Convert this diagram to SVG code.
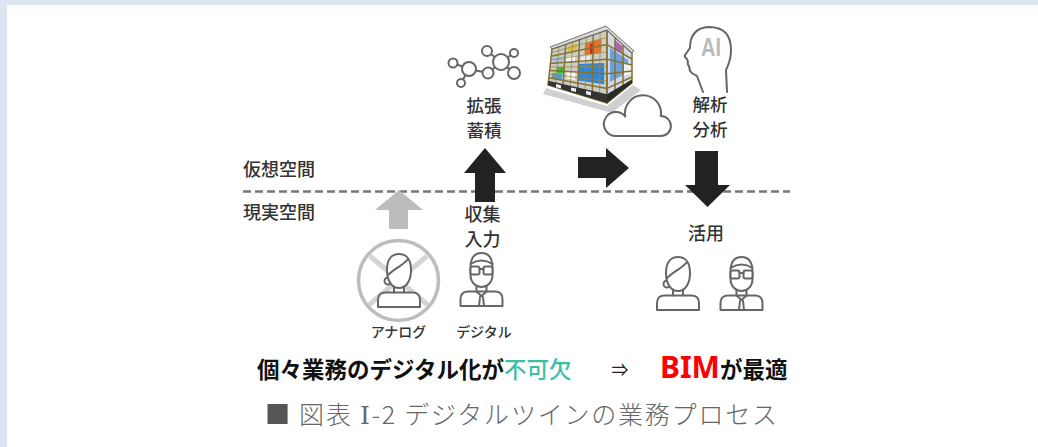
<svg xmlns="http://www.w3.org/2000/svg" xmlns:xlink="http://www.w3.org/1999/xlink" width="1038" height="447" viewBox="0 0 1038 447">
  <style>
    .lbl { font-family: "Noto Sans CJK JP", "Noto Sans", sans-serif; font-size: 18px; font-weight: 500; fill: #333; }
    .pair { font-family: "Noto Sans CJK JP", "Noto Sans", sans-serif; font-size: 17.5px; font-weight: 500; fill: #333; }
    .small { font-family: "Noto Sans CJK JP", "Noto Sans", sans-serif; font-size: 14px; font-weight: 500; fill: #333; }
    .icon { fill: #fff; stroke: #666; stroke-width: 2; stroke-linejoin: round; stroke-linecap: round; }
    .line { fill: none; stroke: #666; stroke-width: 2; stroke-linecap: round; stroke-linejoin: round; }
    .frame { stroke: #86732f; stroke-width: 1.5; fill: none; }
    .thin { stroke: #a08c48; stroke-width: 0.8; fill: none; }
    .main { font-family: "Noto Sans CJK JP", "Noto Sans", sans-serif; font-size: 22.5px; font-weight: 700; fill: #111; }
    .caption { font-family: "Noto Sans CJK JP", "Noto Sans", sans-serif; font-size: 25px; font-weight: 300; fill: #666; }
  </style>
  <defs>
    <!-- person icons, origin = top centre of head -->
    <g id="male">
      <path class="icon" d="M-21,53 L-21,46 Q-21,39 -14,38.5 L14,38.5 Q21,39 21,46 L21,53 Z"/>
      <path class="line" d="M-5,32 L-5,38.5 M5,32 L5,38.5"/>
      <path class="line" d="M-5,38.5 L0,43 L5,38.5 M-1.5,44 L-2.5,53 M1.5,44 L2.5,53"/>
      <path class="icon" d="M-11,15 C-11,3 -6,0 0,0 C6,0 11,3 11,15 L11,22 C11,30 5,34 0,34 C-5,34 -11,30 -11,22 Z"/>
      <path class="line" d="M-11,11 Q0,4 11,11"/>
      <rect class="icon" x="-11" y="13.5" width="9" height="8" rx="2"/>
      <rect class="icon" x="2" y="13.5" width="9" height="8" rx="2"/>
      <path class="line" d="M-2,16 L2,16"/>
    </g>
    <g id="female">
      <path class="icon" d="M-21,53 L-21,46 Q-21,39 -14,38.5 L14,38.5 Q21,39 21,46 L21,53 Z"/>
      <path class="line" d="M-5,32 L-5,38.5 M5,32 L5,38.5"/>
      <circle class="icon" cx="-11" cy="27" r="3.5"/>
      <path class="icon" d="M-12,16 C-12,5 -7,0 0,0 C7,0 12,5 12,16 C12,27 7,34 0,34 C-7,34 -12,27 -12,16 Z"/>
      <path class="line" d="M9,5 C5,11 -3,13 -11,21"/>
    </g>
  </defs>

  <!-- page background with pale blue frame -->
  <rect x="0" y="0" width="1038" height="447" fill="#dce6f3"/>
  <rect x="7" y="5" width="1031" height="442" fill="#fff"/>

  <!-- boundary between virtual and real space -->
  <g id="boundary">
    <line x1="243" y1="191.5" x2="790" y2="191.5" stroke="#777" stroke-width="2.5" stroke-dasharray="8 4"/>
    <text class="lbl" x="243" y="176">仮想空間</text>
    <text class="lbl" x="243" y="219">現実空間</text>
  </g>

  <!-- flow arrows -->
  <g id="connectors">
    <polygon points="399,190 423,210 408,210 408,229 389,229 389,210 375,210" fill="#bcbcbc"/>
    <polygon points="485,148 506,173 495,173 495,202 475,202 475,173 464,173" fill="#222"/>
    <polygon points="578,157 606,157 606,148 629,168 606,188 606,178 578,178" fill="#222"/>
    <polygon points="695,151 718,151 718,185 730,185 707.5,207 685,185 695,185" fill="#222"/>
  </g>

  <!-- data network: expand / accumulate -->
  <g id="node-network">
    <path class="line" d="M453,63 L469,69 L461,83 M469,69 L488,73 L501,62 L487,51 M501,62 L514,53 M501,62 L514,73"/>
    <circle class="icon" cx="453" cy="63" r="4.5"/>
    <circle class="icon" cx="469" cy="69" r="7"/>
    <circle class="icon" cx="461" cy="83" r="4"/>
    <circle class="icon" cx="488" cy="73" r="5.5"/>
    <circle class="icon" cx="487" cy="51" r="5"/>
    <circle class="icon" cx="501" cy="62" r="8"/>
    <circle class="icon" cx="514" cy="53" r="4"/>
    <circle class="icon" cx="514" cy="73" r="6"/>
    <text class="pair" x="484" y="112" text-anchor="middle">拡張</text>
    <text class="pair" x="484" y="137" text-anchor="middle">蓄積</text>
  </g>

  <!-- BIM building model -->
  <g id="node-building">
    <polygon points="546,88 607,106 633,85 641,90 612,113 543,94" fill="#8a8a8a" opacity="0.4"/>
    <!-- left facade -->
    <polygon points="552,49 607,30 607,103 548,85" fill="#c9ccc8"/>
    <polygon points="578.6,64 604.2,63 604.1,84.3 578,80.4" fill="#2f86d6"/>
    <polygon points="556.8,66.9 564.2,66.9 563.8,73.7 556.3,73" fill="#33c233"/>
    <polygon points="584.9,43.4 601.5,38.8 601.4,52.7 584.5,55.1" fill="#e8742a"/>
    <polygon points="590,44 594,43 594,53 590,54" fill="#e02020"/>
    <polygon points="566,57 575,55.5 575,61 566,62" fill="#f4f4f4"/>
    <polygon points="553.8,57.5 563.2,55.9 562.9,62.5 553.2,63.2" fill="#9cc4ec"/>
    <polygon points="566.8,71.6 575.4,72 575.1,79.9 566.4,78.6" fill="#fafafa"/>
    <polygon points="568.4,45.7 576.7,43.1 576.4,49.9 568,51.8" fill="#d9c040"/>
    <polygon points="552.3,72.7 562.1,73.5 561.6,80.1 551.7,78.3" fill="#4a9be0"/>
    <polygon points="581,57 590,55.8 590,61 581,62" fill="#f0f0f0"/>
    <!-- right facade -->
    <polygon points="607,30 632,53 632,83 607,103" fill="#d2d9e4"/>
    <polygon points="610,48 628,60 628,72 610,82" fill="#6e9fe0"/>
    <polygon points="615,40 622,46 622,52 615,50" fill="#b060c0"/>
    <polygon points="624,62 631,66 631,74 624,76" fill="#f2f2f2"/>
    <!-- structural frame -->
    <g class="thin">
      <line x1="551.6" y1="52.6" x2="607" y2="37.3"/>
      <line x1="550.8" y1="59.8" x2="607" y2="51.9"/>
      <line x1="550" y1="67" x2="607" y2="66.5"/>
      <line x1="549.2" y1="74.2" x2="607" y2="81.1"/>
      <line x1="558.9" y1="46.6" x2="555.4" y2="87.2"/>
      <line x1="572.6" y1="41.9" x2="570.1" y2="91.8"/>
      <line x1="586.4" y1="37.1" x2="584.9" y2="96.2"/>
      <line x1="600.1" y1="32.4" x2="599.6" y2="100.8"/>
    </g>
    <g class="frame">
      <polygon points="552,49 607,30 607,103 548,85"/>
      <polygon points="607,30 632,53 632,83 607,103"/>
      <line x1="551.2" y1="56.2" x2="607" y2="44.6"/>
      <line x1="550.4" y1="63.4" x2="607" y2="59.2"/>
      <line x1="549.6" y1="70.6" x2="607" y2="73.8"/>
      <line x1="548.8" y1="77.8" x2="607" y2="88.4"/>
      <line x1="565.75" y1="44.25" x2="562.75" y2="89.5"/>
      <line x1="579.5" y1="39.5" x2="577.5" y2="94"/>
      <line x1="593.25" y1="34.75" x2="592.25" y2="98.5"/>
      <line x1="607" y1="44.6" x2="632" y2="59"/>
      <line x1="607" y1="59.2" x2="632" y2="65"/>
      <line x1="607" y1="73.8" x2="632" y2="71"/>
      <line x1="607" y1="88.4" x2="632" y2="77"/>
      <line x1="615" y1="37.4" x2="615" y2="96.6"/>
      <line x1="623" y1="44.7" x2="623" y2="90.2"/>
    </g>
    <!-- ground floor -->
    <polygon points="548.5,80.7 607,94.2 607,103 548,85" fill="#333"/>
    <polygon points="607,94.2 632,79.4 632,83 607,103" fill="#2a2a2a"/>
    <polygon points="556,84 561,85.2 561,88.6 556,87.3" fill="#eee"/>
    <polygon points="571,87.4 576,88.6 576,92 571,90.8" fill="#eee"/>
    <polygon points="586,90.8 591,92 591,95.5 586,94.2" fill="#eee"/>
    <!-- roof edge -->
    <polygon points="550,47 606,26 634,51 632,53 607,30 552,49" fill="#d8d8d8" stroke="#555" stroke-width="0.8"/>
  </g>

  <!-- cloud storage -->
  <g id="node-cloud">
    <path class="icon" stroke-width="2.5" d="M616,136 A12,12 0 1 1 625.3,116.5 A18,18 0 1 1 660.8,116 A10,10 0 1 1 661,136 Z"/>
  </g>

  <!-- AI analysis -->
  <g id="node-ai">
    <path class="line" d="M703,92 L697,76 Q692,74 690,71 L689,66 Q687,64 688,62 L687,59 Q684,57 685,55 L690,48 Q690,28 709,27 Q731,27 731,50 Q731,60 726,70 L727,92"/>
    <text x="711" y="56" text-anchor="middle" font-family="Liberation Sans, Arial, sans-serif" font-size="25" font-weight="700" fill="#bbb" textLength="20" lengthAdjust="spacingAndGlyphs">AI</text>
    <text class="pair" x="710" y="111" text-anchor="middle">解析</text>
    <text class="pair" x="710" y="136" text-anchor="middle">分析</text>
  </g>

  <!-- analogue worker (crossed out) -->
  <g id="node-analog">
    <circle cx="398.5" cy="280.5" r="40" fill="#fff" stroke="#bdbdbd" stroke-width="3.5"/>
    <path d="M370,256 L428,305 M427,256 L369,305" stroke="#d4d4d4" stroke-width="5" fill="none"/>
    <use xlink:href="#female" href="#female" x="399" y="254"/>
    <text class="small" x="398.5" y="337" text-anchor="middle">アナログ</text>
  </g>

  <!-- digital worker -->
  <g id="node-digital">
    <use xlink:href="#male" href="#male" x="481.5" y="253"/>
    <text class="small" x="484" y="337" text-anchor="middle">デジタル</text>
    <text class="lbl" x="482.5" y="221" text-anchor="middle">収集</text>
    <text class="lbl" x="482.5" y="246" text-anchor="middle">入力</text>
  </g>

  <!-- users of the results -->
  <g id="node-use">
    <text class="lbl" x="706" y="240" text-anchor="middle">活用</text>
    <use xlink:href="#female" href="#female" x="678" y="257"/>
    <use xlink:href="#male" href="#male" x="741.5" y="257"/>
  </g>

  <!-- conclusion -->
  <g id="summary">
    <text class="main" x="257" y="378">個々業務のデジタル化が<tspan fill="#3dbfa6" font-weight="500">不可欠</tspan></text>
    <text x="620" y="376" text-anchor="middle" font-family="Noto Sans CJK JP, sans-serif" font-size="17" fill="#222">⇒</text>
    <text class="main" x="660" y="378"><tspan fill="#ff0000" font-size="30" font-family="Noto Sans, Liberation Sans, sans-serif">BIM</tspan>が最適</text>
  </g>

  <!-- figure caption -->
  <text class="caption" x="265" y="424" textLength="512" lengthAdjust="spacing"><tspan fill="#555">■</tspan> 図表 <tspan font-family="Liberation Serif, DejaVu Serif, serif">Ⅰ</tspan>-2 デジタルツインの業務プロセス</text>
</svg>
